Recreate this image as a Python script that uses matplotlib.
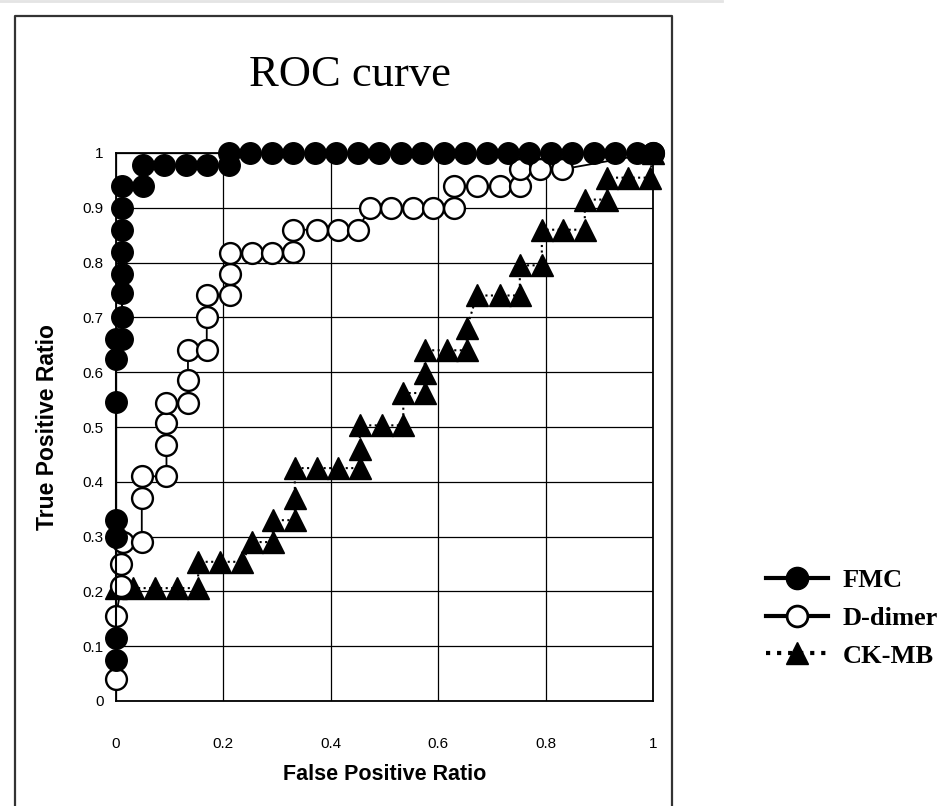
import matplotlib
matplotlib.use("Agg")
import matplotlib.pyplot as plt
from matplotlib.lines import Line2D

# ROC points
fmc_fpr = [0.0, 0.0, 0.0, 0.0, 0.0, 0.0, 0.0, 0.011, 0.011, 0.011, 0.011, 0.011, 0.011,
           0.011, 0.011, 0.05, 0.05, 0.09, 0.13, 0.17, 0.21, 0.21, 0.25, 0.29, 0.33, 0.37,
           0.41, 0.45, 0.49, 0.53, 0.57, 0.61, 0.65, 0.69, 0.73, 0.77, 0.81, 0.85, 0.89,
           0.93, 0.97, 1.0]
fmc_tpr = [0.075, 0.115, 0.30, 0.33, 0.545, 0.625, 0.66, 0.66, 0.70, 0.745, 0.78, 0.82,
           0.86, 0.90, 0.94, 0.94, 0.978, 0.978, 0.978, 0.978, 0.978, 1.0, 1.0, 1.0, 1.0,
           1.0, 1.0, 1.0, 1.0, 1.0, 1.0, 1.0, 1.0, 1.0, 1.0, 1.0, 1.0, 1.0, 1.0, 1.0, 1.0,
           1.0]

ddimer_fpr = [0.0, 0.0, 0.01, 0.01, 0.013, 0.048, 0.048, 0.048, 0.094, 0.094, 0.094, 0.094,
              0.134, 0.134, 0.134, 0.169, 0.169, 0.169, 0.212, 0.212, 0.212, 0.253, 0.29,
              0.33, 0.33, 0.374, 0.414, 0.45, 0.473, 0.513, 0.553, 0.59, 0.63, 0.63, 0.672,
              0.715, 0.752, 0.752, 0.79, 0.83, 1.0]
ddimer_tpr = [0.04, 0.155, 0.21, 0.25, 0.29, 0.29, 0.37, 0.41, 0.41, 0.467, 0.507, 0.544,
              0.544, 0.585, 0.64, 0.64, 0.70, 0.74, 0.74, 0.78, 0.818, 0.818, 0.818, 0.82,
              0.86, 0.86, 0.86, 0.86, 0.90, 0.90, 0.90, 0.90, 0.90, 0.94, 0.94, 0.94, 0.94,
              0.97, 0.97, 0.97, 1.0]

ckmb_fpr = [0.0, 0.032, 0.073, 0.114, 0.153, 0.153, 0.194, 0.235, 0.253, 0.292, 0.292,
            0.333, 0.333, 0.333, 0.374, 0.414, 0.454, 0.454, 0.454, 0.495, 0.535, 0.535,
            0.575, 0.575, 0.575, 0.616, 0.653, 0.653, 0.672, 0.715, 0.752, 0.752, 0.793,
            0.793, 0.832, 0.873, 0.873, 0.914, 0.914, 0.953, 0.994, 1.0]
ckmb_tpr = [0.206, 0.206, 0.206, 0.206, 0.206, 0.254, 0.254, 0.254, 0.29, 0.29, 0.33,
            0.33, 0.37, 0.425, 0.425, 0.425, 0.425, 0.46, 0.503, 0.503, 0.503, 0.562,
            0.562, 0.598, 0.64, 0.64, 0.64, 0.68, 0.74, 0.74, 0.74, 0.795, 0.795, 0.86,
            0.86, 0.86, 0.915, 0.915, 0.955, 0.955, 0.955, 1.0]

x_ticks = [0, 0.2, 0.4, 0.6, 0.8, 1]
x_tick_labels = ["0", "0.2", "0.4", "0.6", "0.8", "1"]
y_ticks = [0, 0.1, 0.2, 0.3, 0.4, 0.5, 0.6, 0.7, 0.8, 0.9, 1]
y_tick_labels = ["0", "0.1", "0.2", "0.3", "0.4", "0.5", "0.6", "0.7", "0.8", "0.9", "1"]

W, H = 951, 806
fig = plt.figure(figsize=(W / 100, H / 100), dpi=100)
ax = fig.add_axes([116 / W, 1 - 701 / H, (653 - 116) / W, (701 - 153) / H])

ax.plot(ckmb_fpr, ckmb_tpr, color="black", linestyle=":", linewidth=1.5, marker="^",
        markersize=16, markerfacecolor="black", markeredgecolor="black", zorder=3,
        clip_on=False)
ax.plot(ddimer_fpr, ddimer_tpr, color="black", linewidth=1.3, marker="o", markersize=15,
        markerfacecolor="white", markeredgecolor="black", markeredgewidth=1.7, zorder=4,
        clip_on=False)
ax.plot(fmc_fpr, fmc_tpr, color="black", linewidth=1.5, marker="o", markersize=15.5,
        markerfacecolor="black", markeredgecolor="black", zorder=5, clip_on=False)

ax.set_xlim(0, 1)
ax.set_ylim(0, 1)
ax.set_xticks(x_ticks)
ax.set_xticklabels(x_tick_labels)
ax.set_yticks(y_ticks)
ax.set_yticklabels(y_tick_labels)
ax.tick_params(length=0, labelsize=11)
ax.tick_params(axis="x", pad=26)
ax.tick_params(axis="y", pad=9)
for lab in ax.get_xticklabels() + ax.get_yticklabels():
    lab.set_fontfamily("Liberation Sans")
ax.grid(True, color="black", linewidth=0.9)
ax.set_axisbelow(True)
for spine in ax.spines.values():
    spine.set_linewidth(1.3)

ax.set_xlabel("False Positive Ratio", fontfamily="Liberation Sans", fontweight="bold",
              fontsize=15.5)
ax.xaxis.set_label_coords(0.5, (701 - 775) / 548)
ax.xaxis.label.set_verticalalignment("center")
ax.set_ylabel("True Positive Ratio", fontfamily="Liberation Sans", fontweight="bold",
              fontsize=16.5)
ax.yaxis.set_label_coords((48 - 116) / 537, 0.5)
ax.yaxis.label.set_verticalalignment("center")

fig.text(350 / W, 1 - 75 / H, "ROC curve", fontfamily="Liberation Serif", fontsize=32,
         ha="center", va="center")

# outer frame around the chart (bottom edge runs off the image)
frame_x = [15 / W, 15 / W, 672 / W, 672 / W]
frame_y = [0.0, 1 - 16 / H, 1 - 16 / H, 0.0]
fig.add_artist(Line2D(frame_x, frame_y, color="#333333", linewidth=1.6))
fig.add_artist(Line2D([0, 722 / W], [1 - 1 / H, 1 - 1 / H], color="#e4e4e4", linewidth=2))

handles = [
    Line2D([], [], color="black", linewidth=3, marker="o", markersize=16,
           markerfacecolor="black", markeredgecolor="black"),
    Line2D([], [], color="black", linewidth=3, marker="o", markersize=15,
           markerfacecolor="white", markeredgecolor="black", markeredgewidth=2),
    Line2D([], [], color="black", linewidth=3, linestyle=":", marker="^", markersize=16,
           markerfacecolor="black", markeredgecolor="black"),
]
fig.legend(handles, ["FMC", "D-dimer", "CK-MB"], loc="center left",
           bbox_to_anchor=(766 / W, 1 - 618 / H), frameon=False, borderpad=0,
           borderaxespad=0, handlelength=2.35, handletextpad=0.55, labelspacing=0.55,
           prop={"family": "Liberation Serif", "weight": "bold", "size": 19})

fig.savefig("out.png", dpi=100)
